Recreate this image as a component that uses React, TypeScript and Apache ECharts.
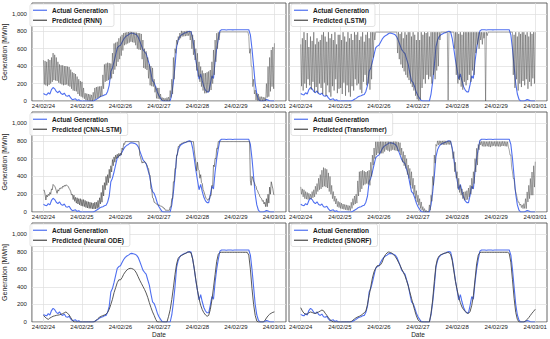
import React, { useEffect, useRef } from 'react';
import * as echarts from 'echarts';

// x = hours since 24/02/24 00:00 (hourly samples)
const DATE_LABELS = ['24/02/24', '24/02/25', '24/02/26', '24/02/27', '24/02/28', '24/02/29', '24/03/01'];
const DAY_TICKS = [0, 24, 48, 72, 96, 120, 144];
const Y_TICKS = [0, 200, 400, 600, 800, 1000];
const MODELS = ['RNN', 'LSTM', 'CNN-LSTM', 'Transformer', 'Neural ODE', 'SNORF'];

const ACTUAL = [
  87, 75, 70, 95, 80, 130, 155, 140, 110, 95, 115, 85, 75, 90, 60, 55, 65, 35, 15, 20, 25, 5, 15, 0,
  0, 0, 0, 0, 0, 0, 0, 0, 8, 20, 30, 45, 55, 60, 70, 75, 110, 180, 340, 380, 450, 530, 610, 630,
  640, 675, 710, 735, 750, 760, 775, 780, 775, 770, 760, 735, 690, 640, 590, 565, 545, 480, 420, 320, 230, 210, 160, 100,
  60, 30, 5, 0, 0, 0, 0, 0, 80, 220, 400, 620, 700, 740, 760, 770, 780, 785, 795, 800, 795, 720, 600, 470,
  360, 250, 310, 230, 165, 125, 105, 105, 190, 290, 260, 450, 600, 712, 805, 818, 818, 818, 815, 818, 818, 818, 816, 818,
  818, 818, 818, 818, 818, 818, 818, 818, 818, 760, 600, 400, 200, 80, 20, 0, 0, 0, 5, 18, 10, 2, 0, 0, 0,
];

// Oscillating predictions: upper (on the hour) and lower (half past) values
const RNN_HI = [
  470, 460, 450, 480, 470, 500, 550, 530, 500, 450, 420, 410, 410, 400, 400, 395, 390, 360, 330, 320, 310, 280, 250, 230,
  220, 150, 90, 85, 80, 75, 70, 100, 150, 160, 165, 168, 170, 300, 420, 430, 440, 435, 430, 550, 660, 670, 680, 720,
  740, 760, 780, 785, 790, 792, 795, 793, 790, 788, 785, 780, 778, 770, 700, 600, 570, 500, 420, 400, 380, 250, 165, 150,
  150, 80, 40, 35, 30, 40, 45, 120, 250, 500, 600, 700, 740, 780, 805, 800, 800, 805, 805, 800, 800, 760, 700, 600,
  548, 450, 395, 350, 318, 320, 330, 340, 356, 450, 586, 700, 778, 790, 793, 793, 793, 793, 793, 793, 793, 793, 793, 793,
  793, 793, 793, 793, 793, 793, 793, 793, 740, 600, 395, 250, 126, 90, 80, 50, 50, 45, 40, 200, 395, 500, 586, 620, 663,
];
const RNN_LO = [
  190, 180, 170, 185, 200, 220, 240, 235, 230, 210, 200, 190, 180, 185, 190, 175, 165, 140, 120, 115, 110, 80, 60, 50,
  40, 25, 10, 8, 5, 3, 0, 10, 25, 30, 40, 50, 60, 140, 220, 230, 240, 250, 260, 310, 360, 400, 450, 480,
  520, 580, 640, 650, 660, 670, 680, 675, 670, 640, 600, 590, 586, 480, 380, 370, 356, 260, 180, 170, 165, 100, 30, 25,
  25, 10, 0, 0, 0, 0, 0, 40, 80, 250, 548, 650, 700, 720, 740, 742, 745, 748, 750, 700, 600, 530, 471, 350,
  280, 220, 165, 120, 88, 90, 100, 110, 126, 200, 300, 450, 600, 700, 793, 793, 793, 793, 793, 793, 793, 793, 793, 793,
  793, 793, 793, 793, 793, 793, 793, 793, 548, 400, 165, 80, 11, 5, 0, 0, 0, 0, 0, 40, 50, 110, 165, 140, 126,
];

const LSTM_HI = [
  650, 720, 790, 700, 780, 620, 740, 690, 790, 650, 720, 680, 700, 760, 790, 740, 680, 790, 720, 770, 700, 790, 650, 760,
  760, 700, 790, 740, 680, 790, 720, 770, 700, 790, 760, 790, 700, 740, 790, 680, 760, 790, 720, 790, 790, 790, 790, 790,
  790, 790, 790, 790, 790, 790, 790, 790, 790, 790, 790, 790, 790, 770, 790, 720, 790, 760, 790, 790, 740, 790, 760, 700,
  790, 700, 790, 760, 790, 780, 790, 740, 790, 790, 790, 790, 790, 790, 790, 790, 790, 790, 790, 790, 790, 790, 790, 790,
  790, 770, 790, 760, 790, 790, 790, 790, 790, 790, 790, 790, 790, 790, 790, 790, 790, 790, 790, 790, 790, 790, 790, 790,
  790, 790, 790, 790, 790, 790, 790, 790, 790, 790, 790, 760, 790, 740, 790, 770, 790, 790, 760, 790, 740, 790, 770, 790, 790,
];
const LSTM_LO = [
  170, 120, 200, 150, 250, 180, 130, 220, 100, 160, 90, 200, 150, 80, 210, 60, 180, 100, 50, 170, 120, 250, 90, 140,
  150, 80, 210, 60, 180, 100, 50, 170, 120, 250, 180, 200, 130, 90, 220, 300, 180, 200, 130, 250, 500, 700, 790, 790,
  790, 790, 790, 790, 790, 790, 790, 790, 790, 790, 790, 550, 480, 420, 380, 340, 300, 270, 240, 200, 160, 120, 60, 20,
  0, 20, 150, 250, 200, 300, 250, 280, 200, 300, 250, 350, 400, 700, 790, 790, 790, 790, 10, 790, 790, 790, 600, 300,
  200, 240, 165, 130, 220, 180, 240, 300, 220, 350, 300, 550, 650, 600, 700, 650, 720, 0, 750, 790, 790, 790, 790, 790,
  790, 790, 790, 790, 790, 790, 790, 790, 790, 790, 300, 150, 250, 120, 200, 160, 230, 180, 250, 140, 220, 170, 260, 200, 180,
];

const CNN_LSTM_HI = [
  245, 200, 190, 200, 220, 260, 310, 290, 240, 250, 265, 275, 290, 300, 305, 295, 265, 230, 200, 190, 165, 160, 150, 150,
  140, 140, 130, 120, 115, 110, 105, 100, 110, 110, 130, 160, 220, 300, 330, 400, 420, 480, 520, 590, 620, 640, 650, 660,
  660, 720, 770, 792, 792, 792, 792, 792, 792, 792, 792, 792, 640, 580, 565, 570, 540, 500, 420, 260, 160, 110, 95, 80,
  76, 65, 57, 40, 20, 19, 19, 57, 151, 340, 490, 640, 736, 760, 773, 780, 785, 790, 792, 792, 792, 792, 700, 560,
  560, 470, 420, 320, 230, 170, 140, 150, 190, 300, 528, 604, 717, 792, 792, 792, 792, 792, 792, 792, 792, 792, 792, 792,
  792, 792, 792, 792, 792, 792, 792, 792, 792, 350, 400, 345, 300, 250, 210, 170, 150, 130, 110, 150, 200, 280, 340, 260, 190,
];
const CNN_LSTM_LO = [
  245, 135, 170, 185, 200, 250, 300, 270, 210, 235, 260, 265, 280, 290, 300, 285, 250, 190, 140, 120, 100, 90, 80, 70,
  65, 60, 50, 45, 40, 40, 35, 35, 35, 40, 50, 90, 110, 180, 250, 300, 330, 380, 450, 520, 560, 600, 610, 630,
  640, 700, 760, 792, 792, 792, 792, 792, 792, 792, 792, 792, 620, 550, 555, 560, 530, 490, 410, 250, 155, 108, 92, 78,
  76, 65, 57, 40, 20, 19, 19, 57, 151, 340, 490, 640, 736, 760, 773, 780, 785, 790, 792, 792, 792, 792, 620, 460,
  480, 380, 330, 250, 200, 150, 132, 145, 185, 290, 510, 600, 710, 792, 792, 792, 792, 792, 792, 792, 792, 792, 792, 792,
  792, 792, 792, 792, 792, 792, 792, 792, 792, 300, 380, 330, 290, 240, 200, 160, 120, 90, 60, 60, 100, 200, 300, 200, 150,
];

const TRANSFORMER_HI = [
  283, 260, 250, 230, 220, 210, 200, 230, 250, 290, 320, 380, 420, 470, 500, 490, 480, 440, 400, 300, 230, 180, 150, 120,
  110, 100, 90, 85, 80, 75, 70, 110, 150, 180, 200, 350, 453, 460, 470, 460, 450, 460, 470, 560, 640, 720, 790, 790,
  790, 792, 792, 791, 790, 792, 792, 790, 790, 792, 792, 790, 785, 780, 720, 680, 641, 600, 528, 490, 453, 380, 302, 240,
  189, 150, 113, 60, 38, 20, 10, 80, 189, 400, 641, 760, 800, 802, 800, 800, 802, 800, 800, 801, 800, 700, 679, 560,
  453, 380, 302, 260, 226, 230, 240, 270, 300, 380, 453, 600, 717, 760, 792, 793, 795, 794, 792, 793, 795, 794, 792, 793,
  795, 794, 792, 793, 795, 794, 792, 790, 700, 641, 453, 377, 226, 150, 113, 90, 80, 94, 150, 226, 300, 377, 450, 520, 566,
];
const TRANSFORMER_LO = [
  200, 170, 150, 145, 140, 145, 150, 160, 170, 200, 230, 250, 260, 280, 290, 280, 270, 230, 200, 150, 120, 90, 60, 50,
  40, 35, 30, 25, 20, 18, 15, 40, 76, 90, 100, 180, 226, 260, 300, 310, 320, 310, 300, 400, 528, 600, 641, 660,
  650, 660, 660, 680, 700, 690, 680, 690, 700, 695, 690, 685, 680, 640, 560, 520, 490, 420, 377, 300, 264, 200, 151, 110,
  76, 40, 19, 5, 0, 0, 0, 20, 120, 300, 550, 740, 755, 758, 760, 755, 755, 758, 760, 758, 750, 600, 453, 380,
  264, 220, 189, 150, 132, 135, 140, 170, 200, 260, 320, 450, 528, 700, 755, 740, 736, 738, 740, 735, 730, 740, 745, 738,
  740, 738, 735, 742, 745, 740, 738, 730, 641, 500, 377, 260, 189, 110, 76, 50, 38, 40, 38, 113, 150, 189, 189, 280, 340,
];

const NEURAL_ODE = [
  76, 55, 40, 30, 45, 55, 65, 70, 75, 78, 82, 88, 95, 105, 114, 100, 80, 50, 20, 0, 0, 0, 0, 0,
  0, 0, 0, 0, 0, 0, 0, 0, 5, 20, 40, 55, 65, 72, 80, 88, 110, 144, 200, 258, 333, 390, 447, 480,
  478, 504, 542, 569, 591, 604, 610, 608, 600, 585, 555, 515, 475, 440, 405, 370, 330, 280, 220, 165, 115, 75, 30, 0,
  0, 0, 0, 0, 0, 0, 65, 140, 255, 390, 540, 660, 725, 745, 755, 765, 775, 785, 795, 795, 785, 715, 610, 480,
  360, 265, 190, 140, 105, 80, 65, 75, 140, 250, 390, 540, 690, 770, 790, 792, 792, 792, 792, 792, 792, 792, 792, 792,
  792, 792, 792, 792, 792, 792, 792, 792, 760, 600, 380, 200, 75, 10, 0, 0, 0, 0, 15, 45, 70, 88, 100, 110, 115,
];

const SNORF = [
  163, 125, 100, 87, 92, 105, 114, 108, 100, 98, 105, 114, 125, 136, 128, 100, 76, 50, 25, 11, 0, 0, 0, 0,
  0, 0, 0, 0, 0, 0, 0, 5, 20, 35, 48, 58, 65, 75, 90, 105, 125, 200, 300, 400, 500, 570, 610, 640,
  640, 650, 680, 730, 765, 785, 796, 790, 782, 765, 745, 715, 680, 645, 600, 565, 525, 470, 410, 340, 270, 200, 130, 70,
  25, 5, 0, 0, 0, 0, 0, 0, 100, 250, 460, 640, 720, 750, 765, 772, 780, 785, 790, 788, 770, 700, 580, 460,
  370, 280, 220, 170, 140, 120, 100, 98, 120, 190, 300, 480, 660, 760, 790, 792, 792, 792, 792, 792, 792, 792, 792, 792,
  792, 792, 792, 792, 792, 792, 792, 792, 780, 680, 480, 270, 110, 30, 0, 0, 0, 0, 10, 30, 50, 75, 100, 122, 145,
];

const BLUE = '#4f6ff0';
const GRAY = '#474747';
const FONT = '"Liberation Sans", Arial, Helvetica, sans-serif';

const COL_LEFT = [28, 289];
const COL_WIDTH = 258;
const ROW_TOP = [3, 112, 223];
const ROW_HEIGHT = [98, 100, 99];

// hourly values -> [hour, value]
const hourly = (vals: number[]) => vals.map((v, h) => [h, v]);
// upper value on the hour, lower value at half past
const band = (hi: number[], lo: number[]) => {
  const out: number[][] = [];
  hi.forEach((v, h) => {
    out.push([h, v]);
    if (h < hi.length - 1) out.push([h + 0.5, lo[h]]);
  });
  return out;
};

const PRED_DATA = [
  { data: band(RNN_HI, RNN_LO), width: 0.6, opacity: 0.8 },
  { data: band(LSTM_HI, LSTM_LO), width: 0.6, opacity: 0.8 },
  { data: band(CNN_LSTM_HI, CNN_LSTM_LO), width: 0.75, opacity: 0.85 },
  { data: band(TRANSFORMER_HI, TRANSFORMER_LO), width: 0.6, opacity: 0.8 },
  { data: hourly(NEURAL_ODE), width: 1, opacity: 0.9 },
  { data: hourly(SNORF), width: 1, opacity: 0.9 },
];

export default function App() {
  const ref = useRef<HTMLDivElement>(null);

  useEffect(() => {
    if (!ref.current) return;
    const chart = echarts.init(ref.current, undefined, { renderer: 'svg' });

    const grids: any[] = [];
    const xAxes: any[] = [];
    const yAxes: any[] = [];
    const series: any[] = [];
    const legends: any[] = [];

    MODELS.forEach((model, i) => {
      const col = i % 2;
      const row = Math.floor(i / 2);
      const left = COL_LEFT[col];
      const top = ROW_TOP[row];
      grids.push({
        left,
        top,
        width: COL_WIDTH,
        height: ROW_HEIGHT[row],
        show: true,
        backgroundColor: '#ffffff',
        borderColor: '#555555',
        borderWidth: 0.9,
        containLabel: false,
      });
      xAxes.push({
        type: 'value',
        gridIndex: i,
        min: -7.2,
        max: 151.2,
        name: row === 2 ? 'Date' : '',
        nameLocation: 'middle',
        nameGap: 7,
        nameTextStyle: { fontSize: 6.5, color: '#222', fontFamily: FONT },
        axisLine: { show: false },
        axisTick: { show: false, customValues: DAY_TICKS },
        axisLabel: {
          customValues: DAY_TICKS,
          fontSize: 6,
          color: '#222',
          fontFamily: FONT,
          margin: 2,
          formatter: (v: number) => DATE_LABELS[Math.round(v / 24)] ?? '',
        },
        splitLine: { show: true, lineStyle: { color: '#dedede', width: 0.7 } },
      });
      yAxes.push({
        type: 'value',
        gridIndex: i,
        min: 0,
        max: 1125,
        name: col === 0 ? 'Generation [MWh]' : '',
        nameLocation: 'middle',
        nameGap: 17,
        nameTextStyle: { fontSize: 7, color: '#222', fontFamily: FONT },
        axisLine: { show: false },
        axisTick: { show: false, customValues: Y_TICKS },
        axisLabel: {
          show: col === 0,
          customValues: Y_TICKS,
          fontSize: 6,
          color: '#222',
          fontFamily: FONT,
          margin: 5,
        },
        splitLine: { show: true, lineStyle: { color: '#dedede', width: 0.7 } },
      });
      const predName = `Predicted (${model})`;
      series.push({
        type: 'line',
        name: 'Actual Generation',
        xAxisIndex: i,
        yAxisIndex: i,
        data: hourly(ACTUAL),
        symbol: 'none',
        showSymbol: false,
        lineStyle: { color: BLUE, width: 1.1 },
        itemStyle: { color: BLUE },
        z: 2,
      });
      series.push({
        type: 'line',
        name: predName,
        xAxisIndex: i,
        yAxisIndex: i,
        data: PRED_DATA[i].data,
        symbol: 'none',
        showSymbol: false,
        lineStyle: { color: GRAY, width: PRED_DATA[i].width, opacity: PRED_DATA[i].opacity },
        itemStyle: { color: GRAY },
        z: 3,
      });
      legends.push({
        data: ['Actual Generation', predName],
        orient: 'vertical',
        left: left + 2,
        top: top + 1,
        icon: 'rect',
        itemWidth: 14,
        itemHeight: 1.2,
        itemGap: 2.5,
        padding: [2.5, 6, 2.5, 3],
        backgroundColor: 'rgba(255,255,255,0.9)',
        borderColor: '#d0d0d0',
        borderWidth: 0.6,
        borderRadius: 2,
        selectedMode: false,
        textStyle: {
          fontSize: 6.5,
          lineHeight: 7.5,
          fontWeight: 'bold',
          color: '#1a1a1a',
          fontFamily: FONT,
        },
      });
    });

    chart.setOption({
      animation: false,
      backgroundColor: '#ffffff',
      textStyle: { fontFamily: FONT },
      grid: grids,
      xAxis: xAxes,
      yAxis: yAxes,
      legend: legends,
      series,
    });

    return () => chart.dispose();
  }, []);

  return (
    <div
      ref={ref}
      style={{ position: 'fixed', left: 0, top: 0, width: 550, height: 339, background: '#fff' }}
    />
  );
}
